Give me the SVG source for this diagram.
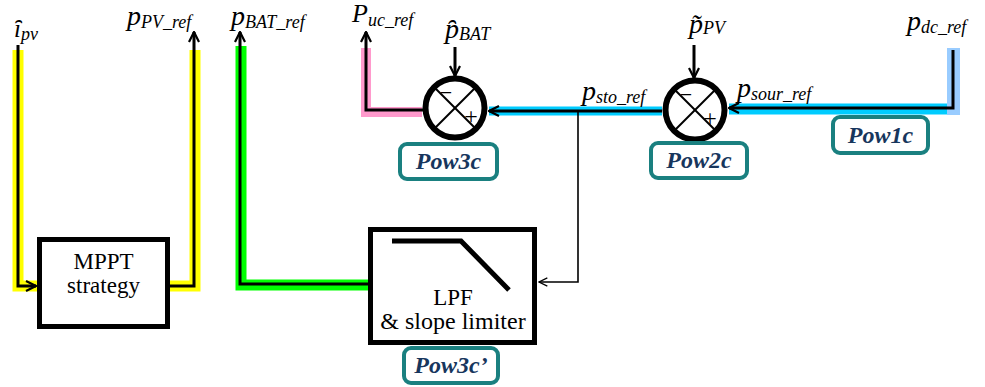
<svg xmlns="http://www.w3.org/2000/svg" width="985" height="387" viewBox="0 0 985 387">
<defs>
<marker id="ah" viewBox="0 0 12 12" refX="11" refY="6" markerWidth="12" markerHeight="12" markerUnits="userSpaceOnUse" orient="auto">
<path d="M1,1 L11,6 L1,11" fill="none" stroke="#000" stroke-width="2.2"/>
</marker>
<marker id="ahs" viewBox="0 0 12 12" refX="11" refY="6" markerWidth="10" markerHeight="10" markerUnits="userSpaceOnUse" orient="auto">
<path d="M1,1 L11,6 L1,11" fill="none" stroke="#000" stroke-width="1.5"/>
</marker>
</defs>
<style>
.band{fill:none;stroke-linejoin:miter;stroke-linecap:butt}
.w{fill:none;stroke:#000;stroke-width:3;stroke-linejoin:miter}
.thin{fill:none;stroke:#000;stroke-width:1.6}
.blk{fill:#fff;stroke:#000;stroke-width:5}
.sum{fill:#fff;stroke:#000;stroke-width:6}
.x{stroke:#000;stroke-width:2}
.lab{font-family:"Liberation Serif","Times New Roman",serif;font-style:italic;fill:#000}
.mn{font-size:28px}
.sb{font-size:18px}
.txt{font-family:"Liberation Serif","Times New Roman",serif;font-size:23px;fill:#000;text-anchor:middle}
.pb{fill:#fff;stroke:#1a8080;stroke-width:4}
.pt{font-family:"Liberation Serif","Times New Roman",serif;font-style:italic;font-weight:bold;font-size:24px;fill:#17365d;text-anchor:middle}
.op{font-family:"Liberation Serif","Times New Roman",serif;fill:#000;text-anchor:middle}
</style>

<g id="bands">
<path class="band" d="M18,50 V286 H37" stroke="#ffff00" stroke-width="11"/>
<path class="band" d="M170,286 H195 V50" stroke="#ffff00" stroke-width="11"/>
<path class="band" d="M368,285 H241 V46" stroke="#00ff00" stroke-width="11"/>
<path class="band" d="M422,112 H366 V48" stroke="#ff99cc" stroke-width="10"/>
<path class="band" d="M489,111 H662" stroke="#00ccff" stroke-width="9"/>
<path class="band" d="M729,109 H953" stroke="#00ccff" stroke-width="11"/>
<rect x="947" y="48" width="13" height="67" fill="#99ccff"/>
</g>

<g id="connectors">
<path class="w" d="M18,45 V286 H36" marker-end="url(#ah)"/>
<path class="w" d="M170,286 H194 V32" marker-end="url(#ah)"/>
<path class="w" d="M368,284 H240 V32" marker-end="url(#ah)"/>
<path class="w" d="M425,110 H366 V32" marker-end="url(#ah)"/>
<path class="w" d="M455,47 V76" marker-end="url(#ah)"/>
<path class="w" d="M662,111 H489" marker-end="url(#ah)"/>
<path class="thin" d="M578,111 V282 H539" marker-end="url(#ahs)"/>
<path class="w" d="M953,50 V108 H729" marker-end="url(#ah)"/>
<path class="w" d="M694,45 V78" marker-end="url(#ah)"/>
</g>

<g id="mppt">
<rect class="blk" x="39.5" y="239.5" width="128" height="87"/>
<text class="txt" x="103.5" y="269">MPPT</text>
<text class="txt" x="103.5" y="293">strategy</text>
</g>

<g id="lpf">
<rect class="blk" x="370.5" y="229.5" width="164" height="113"/>
<path d="M392,241 H461 L509,290" fill="none" stroke="#000" stroke-width="5"/>
<text class="txt" x="453" y="305">LPF</text>
<text class="txt" x="453" y="329" style="font-size:24px">&amp; slope limiter</text>
</g>

<g id="sum3c">
<circle class="sum" cx="455" cy="108" r="29.5"/>
<line class="x" x1="434" y1="87" x2="476" y2="129"/>
<line class="x" x1="476" y1="87" x2="434" y2="129"/>
<text class="op" x="446" y="100" font-size="22">−</text>
<text class="op" x="471" y="124" font-size="24">+</text>
</g>

<g id="sum2c">
<circle class="sum" cx="695" cy="110" r="29.5"/>
<line class="x" x1="674" y1="89" x2="716" y2="131"/>
<line class="x" x1="716" y1="89" x2="674" y2="131"/>
<text class="op" x="686" y="102" font-size="22">−</text>
<text class="op" x="710" y="126" font-size="24">+</text>
</g>

<g id="pow1c"><rect class="pb" x="833" y="117" width="95" height="36" rx="7"/><text class="pt" x="880.5" y="143">Pow1c</text></g>
<g id="pow2c"><rect class="pb" x="651" y="143" width="96" height="35" rx="7"/><text class="pt" x="699" y="168">Pow2c</text></g>
<g id="pow3c"><rect class="pb" x="400" y="144" width="97" height="35" rx="7"/><text class="pt" x="448.5" y="169">Pow3c</text></g>
<g id="pow3cp"><rect class="pb" x="404" y="348" width="94" height="35" rx="7"/><text class="pt" x="451" y="373">Pow3c’</text></g>

<g id="labels">
<text class="lab" x="14" y="37"><tspan class="mn" style="font-size:25px">ȋ</tspan><tspan class="sb" dy="3">pv</tspan></text>
<text class="lab" x="127" y="25"><tspan class="mn">p</tspan><tspan class="sb" dy="3">PV_ref</tspan></text>
<text class="lab" x="231" y="25"><tspan class="mn">p</tspan><tspan class="sb" dy="3">BAT_ref</tspan></text>
<text class="lab" x="352" y="22"><tspan class="mn" style="font-size:26px">P</tspan><tspan class="sb" dy="4">uc_ref</tspan></text>
<text class="lab" x="445" y="38"><tspan class="mn">p̑</tspan><tspan class="sb" dy="2">BAT</tspan></text>
<text class="lab" x="689" y="33"><tspan class="mn">p̃</tspan><tspan class="sb" dy="1">PV</tspan></text>
<text class="lab" x="582" y="100"><tspan class="mn">p</tspan><tspan class="sb" dy="3">sto_ref</tspan></text>
<text class="lab" x="737" y="97"><tspan class="mn">p</tspan><tspan class="sb" dy="3">sour_ref</tspan></text>
<text class="lab" x="907" y="30"><tspan class="mn">p</tspan><tspan class="sb" dy="3">dc_ref</tspan></text>
</g>
</svg>
